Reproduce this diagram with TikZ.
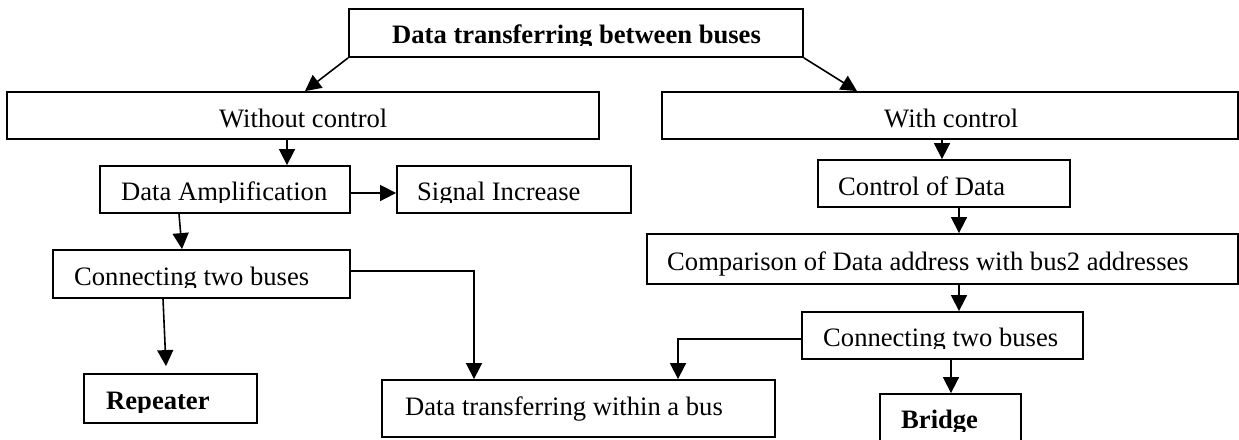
\documentclass[tikz,border=0pt]{standalone}
\usepackage{fontspec}
\setmainfont{Liberation Serif}
\usetikzlibrary{arrows.meta}
\newcommand\cliptxt[5]{\begin{scope}\clip (#2-5,#3-40) rectangle (#2+600,#4);\node[txt] (#1) at (#2,#3) {#5};\end{scope}}
\begin{document}
\begin{tikzpicture}[x=1pt,y=-1pt,
  box/.style={draw=black,line width=1.8pt,rectangle,inner sep=0pt},
  txt/.style={anchor=base west,inner sep=0pt,font=\fontsize{26.6}{30}\selectfont},
  arr/.style={draw=black,line width=1.6pt,-{Triangle[length=16pt,width=16pt]}}]
\useasboundingbox (0,0) rectangle (1239,439);
% boxes
\node[box,minimum width=454pt,minimum height=48pt] (T)  at (576,33) {};
\node[box,minimum width=592pt,minimum height=47pt] (WO) at (303,115.5) {};
\node[box,minimum width=576pt,minimum height=47pt] (WC) at (950,115.5) {};
\node[box,minimum width=250pt,minimum height=47pt] (DA) at (225,189.5) {};
\node[box,minimum width=234pt,minimum height=47pt] (SI) at (514,189.5) {};
\node[box,minimum width=252pt,minimum height=47pt] (CD) at (944,183.5) {};
\node[box,minimum width=591pt,minimum height=50pt] (CP) at (942.5,259) {};
\node[box,minimum width=297pt,minimum height=48pt] (CL) at (201.5,274) {};
\node[box,minimum width=281pt,minimum height=47pt] (CR) at (942.5,335.5) {};
\node[box,minimum width=173pt,minimum height=49pt] (R)  at (170.5,398.5) {};
\node[box,minimum width=393pt,minimum height=57pt] (DW) at (578.5,408.5) {};
\node[box,minimum width=141pt,minimum height=56pt] (B)  at (950.5,422) {};
% texts
\cliptxt{tT}{392}{43}{45.5}{\bfseries Data transferring between buses}
\node[txt] (tWO) at (219,127) {Without control};
\node[txt] (tWC) at (884,127) {With control};
\cliptxt{tDA}{121}{200}{202}{Data Amplification}
\cliptxt{tSI}{417}{200}{202}{Signal Increase}
\node[txt] (tCD) at (838,195) {Control of Data};
\node[txt] (tCP) at (667,270) {Comparison of Data address with bus2 addresses};
\cliptxt{tCL}{74}{285}{287}{Connecting two buses}
\cliptxt{tCR}{823}{346}{348}{Connecting two buses}
\cliptxt{tR}{106}{409}{412}{\bfseries Repeater}
\node[txt] (tDW) at (405,415) {Data transferring within a bus};
\cliptxt{tB}{901}{428}{431}{\bfseries Bridge}
% connectors
\draw[arr] (T.south west) -- ([xshift=2pt]WO.north);
\draw[arr] (T.south east) -- ([xshift=-93pt]WC.north);
\draw[arr] ([xshift=-16pt]WO.south) -- ([xshift=62pt]DA.north);
\draw[arr] ([yshift=-3.5pt]DA.east) -- ([yshift=-3.5pt]SI.west);
\draw[arr] ([xshift=-46pt]DA.south) -- ([xshift=-19.5pt]CL.north);
\draw[arr] ([xshift=-38.5pt]CL.south) -- ([xshift=-4.5pt,yshift=7pt]R.north);
\draw[arr] ([yshift=3pt]CL.east) -| ([xshift=-104.5pt]DW.north);
\draw[arr] ([yshift=-3.5pt]CR.west) -| ([xshift=99.5pt]DW.north);
\draw[arr] ([xshift=-8pt]WC.south) -- ([xshift=-2pt]CD.north);
\draw[arr] ([xshift=15pt]CD.south) -- ([xshift=16.5pt]CP.north);
\draw[arr] ([xshift=16.5pt]CP.south) -- ([xshift=16.5pt]CR.north);
\draw[arr] ([xshift=8.5pt]CR.south) -- ([xshift=0.5pt]B.north);
\end{tikzpicture}
\end{document}
